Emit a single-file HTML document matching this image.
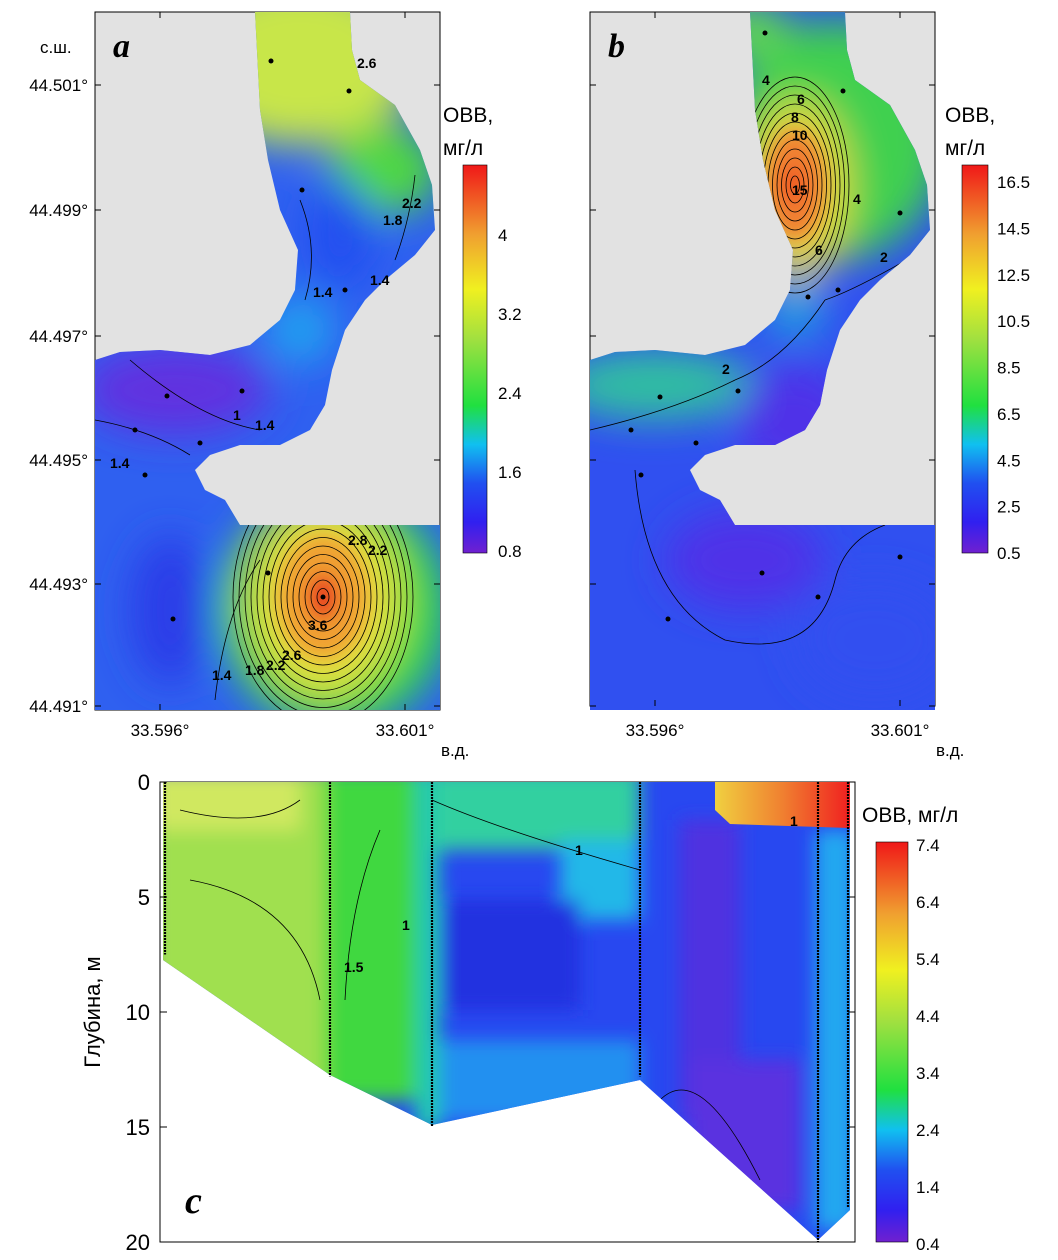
<!DOCTYPE html>
<html><head><meta charset="utf-8"><style>
html,body{margin:0;padding:0;background:#fff}
svg{display:block;font-family:"Liberation Sans",sans-serif}
</style></head><body>
<svg id="fig" width="1058" height="1260" viewBox="0 0 1058 1260" xmlns="http://www.w3.org/2000/svg">
<defs>
<filter id="blur" x="-50%" y="-50%" width="200%" height="200%"><feGaussianBlur stdDeviation="20"/></filter>
<filter id="blur2" x="-50%" y="-50%" width="200%" height="200%"><feGaussianBlur stdDeviation="9"/></filter>
<clipPath id="waterA"><path id="wp" d="M255,12 L350,12 L352,50 L360,80 L395,105 L420,150 L432,185 L435,230 L415,255 L385,280 L365,300 L345,330 L332,370 L325,405 L310,430 L280,445 L240,445 L210,455 L195,470 L205,490 L225,500 L240,525 L440,525 L440,710 L95,710 L95,360 L120,352 L160,350 L210,355 L250,345 L280,320 L295,290 L298,250 L280,210 L268,160 L260,110 Z"/></clipPath>
<clipPath id="waterC"><path d="M163,782 L850,782 L850,1210 L818,1240 L640,1080 L432,1125 L330,1075 L163,960 Z"/></clipPath>
<linearGradient id="cbA" x1="0" y1="1" x2="0" y2="0">
<stop offset="0" stop-color="#7020d0"/><stop offset="0.08" stop-color="#3020f0"/><stop offset="0.18" stop-color="#2050f0"/><stop offset="0.28" stop-color="#10c0f0"/><stop offset="0.38" stop-color="#20e040"/><stop offset="0.55" stop-color="#a0e040"/><stop offset="0.68" stop-color="#f0f020"/><stop offset="0.82" stop-color="#f0a030"/><stop offset="1" stop-color="#f01818"/></linearGradient>
<linearGradient id="hot" x1="0" y1="0" x2="1" y2="0"><stop offset="0" stop-color="#f0d040"/><stop offset="0.5" stop-color="#f08030"/><stop offset="1" stop-color="#f02020"/></linearGradient>
</defs>

<!-- Panel A -->
<g>
<rect x="95" y="12" width="345" height="698" fill="#e2e2e2" stroke="#000"/>
<g clip-path="url(#waterA)">
<rect x="95" y="12" width="345" height="698" fill="#2f60f0"/>
<g filter="url(#blur)">
<ellipse cx="300" cy="60" rx="120" ry="85" fill="#c8e64a"/>
<ellipse cx="385" cy="170" rx="55" ry="45" fill="#50d840"/>
<ellipse cx="340" cy="235" rx="35" ry="55" fill="#2050f0"/>
<ellipse cx="300" cy="330" rx="35" ry="35" fill="#20a0f0"/>
<ellipse cx="175" cy="390" rx="95" ry="45" fill="#6030e0"/>
<ellipse cx="170" cy="610" rx="40" ry="75" fill="#2a3ce8"/>
<ellipse cx="335" cy="610" rx="115" ry="120" fill="#30d848"/>
<ellipse cx="325" cy="600" rx="75" ry="95" fill="#e8e040"/>
</g>
<g filter="url(#blur2)">
<ellipse cx="323" cy="597" rx="45" ry="62" fill="#f0a030"/>
<ellipse cx="323" cy="597" rx="16" ry="24" fill="#e84020"/>
</g>
<g id="ringsA" fill="none" stroke="#000" stroke-width="0.8"></g>
<path d="M95,420 Q150,430 190,455 M130,360 Q200,420 260,430 M305,300 Q320,250 300,200 M415,175 Q410,220 395,260 M215,700 Q225,610 260,560" fill="none" stroke="#000" stroke-width="0.8"/>
</g>
<text x="113" y="57" font-family="Liberation Serif" font-style="italic" font-weight="bold" font-size="34">a</text>
<text x="40" y="53" font-size="17">с.ш.</text>
<text x="441" y="756" font-size="17">в.д.</text>
<text x="443" y="122" font-size="21">ОВВ,</text>
<text x="443" y="155" font-size="21">мг/л</text>
<rect x="463" y="165" width="24" height="388" fill="url(#cbA)" stroke="#000" stroke-width="0.6"/>
</g>

<!-- Panel B -->
<g>
<rect x="590" y="12" width="345" height="694" fill="#e2e2e2" stroke="#000"/>
<g transform="translate(495,0)">
<g clip-path="url(#waterA)">
<rect x="95" y="12" width="345" height="698" fill="#3050f0"/>
<g filter="url(#blur)">
<ellipse cx="340" cy="140" rx="110" ry="120" fill="#40d050"/>
<ellipse cx="255" cy="30" rx="40" ry="30" fill="#60d850"/>
<ellipse cx="160" cy="385" rx="100" ry="35" fill="#30c0a0"/>
<ellipse cx="300" cy="310" rx="30" ry="30" fill="#20a0e0"/>
<ellipse cx="300" cy="420" rx="60" ry="55" fill="#5030e8"/>
<ellipse cx="250" cy="560" rx="80" ry="50" fill="#5030e8"/>
<ellipse cx="380" cy="640" rx="80" ry="60" fill="#3050f0"/>
<ellipse cx="303" cy="190" rx="50" ry="90" fill="#e8d840"/>
</g>
<g filter="url(#blur2)">
<ellipse cx="300" cy="185" rx="30" ry="55" fill="#f08030"/>
<ellipse cx="298" cy="185" rx="10" ry="20" fill="#f05020"/>
</g>
<g id="ringsB" fill="none" stroke="#000" stroke-width="0.8"></g>
<path d="M95,430 Q180,410 240,380 Q290,360 330,300 M140,470 Q150,600 230,640 Q320,660 340,580 Q350,540 390,525 M330,300 Q360,290 420,255" fill="none" stroke="#000" stroke-width="0.8"/>
</g>
</g>
<text x="608" y="57" font-family="Liberation Serif" font-style="italic" font-weight="bold" font-size="34">b</text>
<text x="936" y="756" font-size="17">в.д.</text>
<text x="945" y="122" font-size="21">ОВВ,</text>
<text x="945" y="155" font-size="21">мг/л</text>
<rect x="962" y="165" width="26" height="388" fill="url(#cbA)" stroke="#000" stroke-width="0.6"/>
</g>

<!-- Panel C -->
<g>
<rect x="160" y="782" width="695" height="460" fill="#fff" stroke="#000"/>
<g clip-path="url(#waterC)">
<rect x="160" y="782" width="700" height="460" fill="#2848f0"/>
<g filter="url(#blur2)">
<rect x="150" y="770" width="190" height="320" fill="#a0e050"/>
<rect x="150" y="770" width="150" height="60" fill="#d0e860"/>
<rect x="325" y="770" width="95" height="330" fill="#40d840"/>
<rect x="415" y="770" width="25" height="360" fill="#20c8b0"/>
<rect x="435" y="770" width="205" height="80" fill="#30d0a0"/>
<rect x="560" y="840" width="80" height="80" fill="#20b8e8"/>
<rect x="440" y="900" width="140" height="110" fill="#2030e0"/>
<rect x="440" y="1040" width="200" height="80" fill="#2090f0"/>
<rect x="680" y="820" width="60" height="300" fill="#5030e0"/>
<rect x="690" y="1060" width="110" height="150" fill="#5a30e0"/>
<rect x="815" y="830" width="40" height="400" fill="#20a8f0"/>
</g>
<path d="M715,782 L850,782 L850,828 L730,824 L715,810 Z" fill="url(#hot)"/>
<path d="M180,810 Q260,830 300,800 M190,880 Q300,900 320,1000 M380,830 Q350,900 345,1000 M432,800 Q500,830 640,870 M660,1100 Q700,1060 760,1180" fill="none" stroke="#000" stroke-width="0.8"/>
</g>
<g id="castLines"></g>
<text x="185" y="1213" font-family="Liberation Serif" font-style="italic" font-weight="bold" font-size="38">c</text>
<text x="100" y="1012" font-size="22" text-anchor="middle" transform="rotate(-90 100 1012)">Глубина, м</text>
<text x="862" y="822" font-size="21">ОВВ, мг/л</text>
<rect x="876" y="842" width="32" height="400" fill="url(#cbA)" stroke="#000" stroke-width="0.6"/>
</g>
<g id="labels"></g>
<script>
const latTicks=["44.501","44.499","44.497","44.495","44.493","44.491"];
const latY=[85,210,336,460,584,706];
const lonTicks=["33.596","33.601"];
const lonX=[160,405];
const cbAValues=["4","3.2","2.4","1.6","0.8"];
const cbBValues=["16.5","14.5","12.5","10.5","8.5","6.5","4.5","2.5","0.5"];
const cbCValues=["7.4","6.4","5.4","4.4","3.4","2.4","1.4","0.4"];
const depthTicks=[0,5,10,15,20];
const castX=[165,330,432,640,818,848];
const castDepth=[7.5,12.8,15,12.8,20,18.5];
const NS="http://www.w3.org/2000/svg";
const L=document.getElementById('labels');
function mk(tag,attrs,txt,parent){const e=document.createElementNS(NS,tag);for(const k in attrs)e.setAttribute(k,attrs[k]);if(txt!==undefined)e.textContent=txt;(parent||L).appendChild(e);return e;}
latTicks.forEach((t,i)=>{const y=latY[i];
 const e=mk('text',{x:88,y:y+6,'font-size':17,'text-anchor':'end'},t+'°');
 
 
 mk('line',{x1:95,x2:101,y1:y,y2:y,stroke:'#000'});mk('line',{x1:434,x2:440,y1:y,y2:y,stroke:'#000'});
 mk('line',{x1:590,x2:596,y1:y,y2:y,stroke:'#000'});mk('line',{x1:929,x2:935,y1:y,y2:y,stroke:'#000'});
});
[0,495].forEach(off=>{lonTicks.forEach((t,i)=>{const x=lonX[i]+off;
 const e=mk('text',{x:x,y:736,'font-size':17,'text-anchor':'middle'},t+'°');
 
 
 mk('line',{x1:x,x2:x,y1:(off?700:704),y2:(off?706:710),stroke:'#000'});mk('line',{x1:x,x2:x,y1:12,y2:18,stroke:'#000'});
});});
function cb(vals,x,y0,y1){const n=vals.length;vals.forEach((v,i)=>{const y=y0+(y1-y0)*i/(n-1);
 const e=mk('text',{x:x,y:y+6,'font-size':17},v);
 
 });}
cb(cbAValues,498,235,551);cb(cbBValues,997,182,553);cb(cbCValues,916,845,1244);
const dY=d=>782+d*(1242-782)/20;
depthTicks.forEach(d=>{const y=dY(d);
 const e=mk('text',{x:150,y:y+8,'font-size':22,'text-anchor':'end'},String(d));
 
 
 mk('line',{x1:160,x2:167,y1:y,y2:y,stroke:'#000'});mk('line',{x1:848,x2:855,y1:y,y2:y,stroke:'#000'});});
const C=document.getElementById('castLines');
castX.forEach((x,i)=>{const l=mk('line',{x1:x,x2:x,y1:782,y2:dY(castDepth[i]),stroke:'#000','stroke-width':2.2,'stroke-dasharray':'2 1'},undefined,C);
 
 });
const RA=document.getElementById('ringsA');
for(let k=1;k<=15;k++){mk('ellipse',{cx:323,cy:597,rx:6*k,ry:8.5*k},undefined,RA);}
const RB=document.getElementById('ringsB');
for(let k=1;k<=12;k++){mk('ellipse',{cx:300,cy:185,rx:4.5*k,ry:9*k},undefined,RB);}
const dots=[[271,61],[349,91],[302,190],[345,290],[242,391],[167,396],[135,430],[200,443],[145,475],[268,573],[173,619],[323,597]];
dots.forEach(p=>{const d=mk('circle',{cx:p[0],cy:p[1],r:2.5,fill:'#000'});});
const dotsB=[[765,33],[843,91],[900,213],[808,297],[838,290],[660,397],[631,430],[738,391],[696,443],[641,475],[762,573],[818,597],[900,557],[668,619]];
dotsB.forEach(p=>{const d=mk('circle',{cx:p[0],cy:p[1],r:2.5,fill:'#000'});});
[["2.6",357,68],["2.2",402,208],["1.8",383,225],["1.4",313,297],["1.4",370,285],["1",233,420],["1.4",255,430],["1.4",110,468],["2.8",348,545],["2.2",368,555],["3.6",308,630],["2.6",282,660],["2.2",266,670],["1.8",245,675],["1.4",212,680],["1.5",344,972],["1",402,930],["1",575,855],["1",790,826],["2",722,374],["2",880,262],["6",815,255],["15",792,195],["10",792,140],["8",791,122],["6",797,104],["4",762,85],["4",853,204]].forEach(t=>{const e=mk('text',{x:t[1],y:t[2],'font-size':14,'font-weight':'bold'},t[0]);});
</script>
</svg>
</body></html>
